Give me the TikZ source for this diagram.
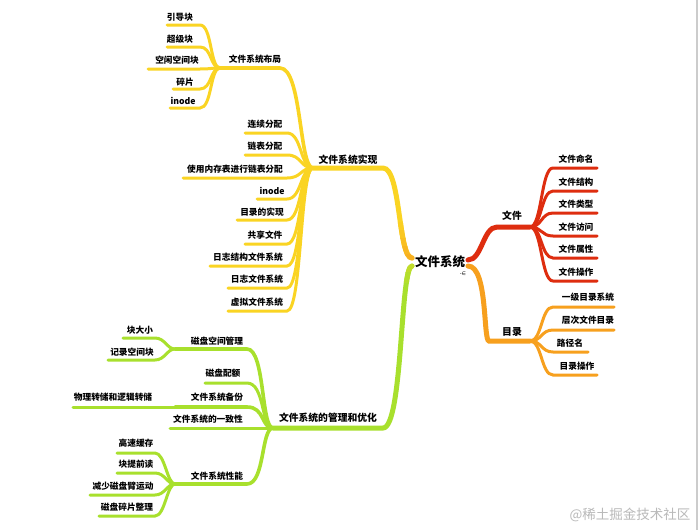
\documentclass[tikz,border=0pt]{standalone}
\usepackage{fontspec}
\setmainfont{Noto Sans CJK SC}
\newfontfamily\symfont{DejaVu Sans}
\definecolor{cy}{RGB}{250,212,35}
\definecolor{cr}{RGB}{222,45,15}
\definecolor{co}{RGB}{247,160,30}
\definecolor{cg}{RGB}{168,224,45}
\tikzset{
  lbl/.style={inner sep=0pt, text=black, font=\fontsize{8.7}{10}\selectfont\bfseries},
  lblA/.style={inner sep=0pt, text=black, font=\fontsize{9.8}{11}\selectfont\bfseries},
  rootlbl/.style={inner sep=0pt, text=black, font=\fontsize{12.5}{14}\selectfont\bfseries},
  br/.style={line width=5pt, line cap=round},
  subbr/.style={line width=3.6pt, line cap=round},
  lf/.style={line width=3pt, line cap=round}
}
% left-side leaf: name, text, text x, text y, line left x, line right x, line y
\newcommand\LfL[7]{%
  \node[lbl] (#1) at (#3,#4) {#2};
  \coordinate (#1-l) at (#5,#7); \coordinate (#1-r) at (#6,#7);
  \draw[lf, draw=\lc] (\fork) .. controls +(-\ca,0) and +(\cb,0) .. (#1-r) -- (#1-l);}
% right-side leaf
\newcommand\LfR[7]{%
  \node[lbl] (#1) at (#3,#4) {#2};
  \coordinate (#1-l) at (#5,#7); \coordinate (#1-r) at (#6,#7);
  \draw[lf, draw=\lc] (\fork) .. controls +(\ca,0) and +(-\cb,0) .. (#1-l) -- (#1-r);}
% band of colour on the yellow main branch: top y, bottom y, colour
\newcommand\YBand[3]{%
  \begin{scope}
    \clip (380,#1) rectangle (425,#2);
    \draw[br, draw=#3] (rL1) .. controls +(-14,0) and +(18,0) .. (sx-r);
  \end{scope}}
\newcommand\GBand[3]{%
  \begin{scope}
    \clip (380,#1) rectangle (425,#2);
    \draw[br, draw=#3] (rL2) .. controls +(-12,0) and +(20,0) .. (gl-r);
  \end{scope}}
\begin{document}
\begin{tikzpicture}[x=1pt,y=-1pt]
\useasboundingbox (0,0) rectangle (700,530);
\fill[white] (0,0) rectangle (700,530);
\draw[gray!40, line width=1.5pt] (697,0) -- (697,530);

% root
\node[rootlbl] (root) at (440,262) {文件系统};
\node[font=\symfont\fontsize{5}{5}\selectfont, inner sep=0pt] (ico) at (463,274) {-∈};
\coordinate (rR1) at (468,260);
\coordinate (rR2) at (468,266);
\coordinate (rL1) at (412,258);
\coordinate (rL2) at (412,266);

% ---------- red: 文件
\node[lblA] (wj) at (512,216) {文件};
\coordinate (wj-l) at (497,227); \coordinate (wj-r) at (530,227);
\draw[br, draw=cr] (rR1) .. controls +(14,0) and +(-14,0) .. (wj-l) -- (wj-r);
\def\fork{wj-r}\def\lc{cr}\def\ca{12}\def\cb{12}
\LfR{wj1}{文件命名}{576}{159}{553}{597}{168}
\LfR{wj2}{文件结构}{576}{182}{553}{597}{191}
\LfR{wj3}{文件类型}{576}{204}{553}{597}{213}
\LfR{wj4}{文件访问}{576}{227}{553}{597}{236}
\LfR{wj5}{文件属性}{576}{249}{553}{597}{258}
\LfR{wj6}{文件操作}{576}{272}{553}{597}{281}

% ---------- orange: 目录
\node[lblA] (ml) at (512,332) {目录};
\coordinate (ml-l) at (489,341); \coordinate (ml-r) at (530,341);
\draw[br, draw=co] (rR2) .. controls +(20,0) and +(-6,0) .. (ml-l) -- (ml-r);
\def\fork{ml-r}\def\lc{co}\def\ca{12}\def\cb{12}
\LfR{ml1}{一级目录系统}{588}{297}{553}{614}{307}
\LfR{ml2}{层次文件目录}{588}{320}{553}{614}{330}
\LfR{ml3}{路径名}{570}{343}{553}{588}{352}
\LfR{ml4}{目录操作}{577}{366}{553}{597}{375}

% ---------- yellow: 文件系统实现
\node[lblA] (sx) at (348,160) {文件系统实现};
\coordinate (sx-l) at (313,168); \coordinate (sx-r) at (383,168);
\draw[br, draw=cy] (rL1) .. controls +(-14,0) and +(18,0) .. (sx-r) -- (sx-l);
\YBand{222}{230}{cy!90!co}
\YBand{230}{238}{cy!75!co}
\YBand{238}{246}{cy!60!co}
\YBand{246}{254}{cy!45!co}
\YBand{254}{265}{cy!30!co}

\node[lbl] (bj) at (255,59) {文件系统布局};
\coordinate (bj-l) at (220,68); \coordinate (bj-r) at (280,68);
\draw[subbr, draw=cy] (sx-l) .. controls +(-14,0) and +(22,0) .. (bj-r) -- (bj-l);

\def\fork{bj-l}\def\lc{cy}\def\ca{10}\def\cb{12}
\LfL{b1}{引导块}{180}{17}{167}{200}{25}
\LfL{b2}{超级块}{180}{39}{167}{200}{47}
\LfL{b3}{空闲空间块}{177}{60}{148}{200}{69}
\LfL{b4}{碎片}{185}{82}{173}{200}{89}
\LfL{b5}{inode}{183}{101}{170}{200}{108}

\def\fork{sx-l}\def\lc{cy}\def\ca{13}\def\cb{15}
\LfL{s1}{连续分配}{265}{124}{245}{287}{133}
\LfL{s2}{链表分配}{265}{146}{245}{287}{155}
\LfL{s3}{使用内存表进行链表分配}{235}{169}{183}{287}{178}
\LfL{s4}{inode}{272}{191}{257}{287}{199}
\LfL{s5}{目录的实现}{262}{212}{237}{287}{220}
\LfL{s6}{共享文件}{265}{235}{245}{287}{244}
\LfL{s7}{日志结构文件系统}{248}{257}{210}{287}{266}
\LfL{s8}{日志文件系统}{257}{279}{228}{287}{288}
\LfL{s9}{虚拟文件系统}{257}{302}{228}{287}{311}

% ---------- green: 文件系统的管理和优化
\node[lblA] (gl) at (328,418) {文件系统的管理和优化};
\coordinate (gl-l) at (273,428); \coordinate (gl-r) at (383,428);
\draw[br, draw=cg] (rL2) .. controls +(-12,0) and +(20,0) .. (gl-r) -- (gl-l);
\GBand{262}{272}{cg!70!cy}
\GBand{272}{282}{cg!85!cy}

\node[lbl] (kj) at (217,341) {磁盘空间管理};
\coordinate (kj-l) at (175,349); \coordinate (kj-r) at (247,349);
\draw[subbr, draw=cg] (gl-l) .. controls +(-12,0) and +(18,0) .. (kj-r) -- (kj-l);
\def\fork{kj-l}\def\lc{cg}\def\ca{8}\def\cb{10}
\LfL{k1}{块大小}{140}{330}{123}{155}{338}
\LfL{k2}{记录空间块}{132}{352}{108}{155}{360}

\def\fork{gl-l}\def\lc{cg}\def\ca{12}\def\cb{18}
\LfL{g2}{磁盘配额}{223}{373}{205}{247}{383}

\node[lbl] (bf) at (217,397) {文件系统备份};
\coordinate (bf-l) at (175,407); \coordinate (bf-r) at (247,407);
\draw[subbr, draw=cg] (gl-l) .. controls +(-12,0) and +(18,0) .. (bf-r) -- (bf-l);
\node[lbl] (wl) at (113,397) {物理转储和逻辑转储};
\coordinate (wl-l) at (73,407);
\draw[lf, draw=cg] (bf-l) -- (wl-l);

\LfL{g4}{文件系统的一致性}{208}{419}{170}{247}{428}

\node[lbl] (xn) at (217,476) {文件系统性能};
\coordinate (xn-l) at (175,484); \coordinate (xn-r) at (247,484);
\draw[subbr, draw=cg] (gl-l) .. controls +(-12,0) and +(18,0) .. (xn-r) -- (xn-l);
\def\fork{xn-l}\def\lc{cg}\def\ca{8}\def\cb{10}
\LfL{x1}{高速缓存}{136}{443}{117}{155}{453}
\LfL{x2}{块提前读}{136}{464}{117}{155}{473}
\LfL{x3}{减少磁盘臂运动}{123}{486}{90}{155}{495}
\LfL{x4}{磁盘碎片整理}{127}{507}{99}{155}{516}

% watermark
\node[inner sep=0pt, text=gray!55, font=\fontsize{13.5}{15}\selectfont] (wm) at (630,515) {@稀土掘金技术社区};
\end{tikzpicture}
\end{document}
